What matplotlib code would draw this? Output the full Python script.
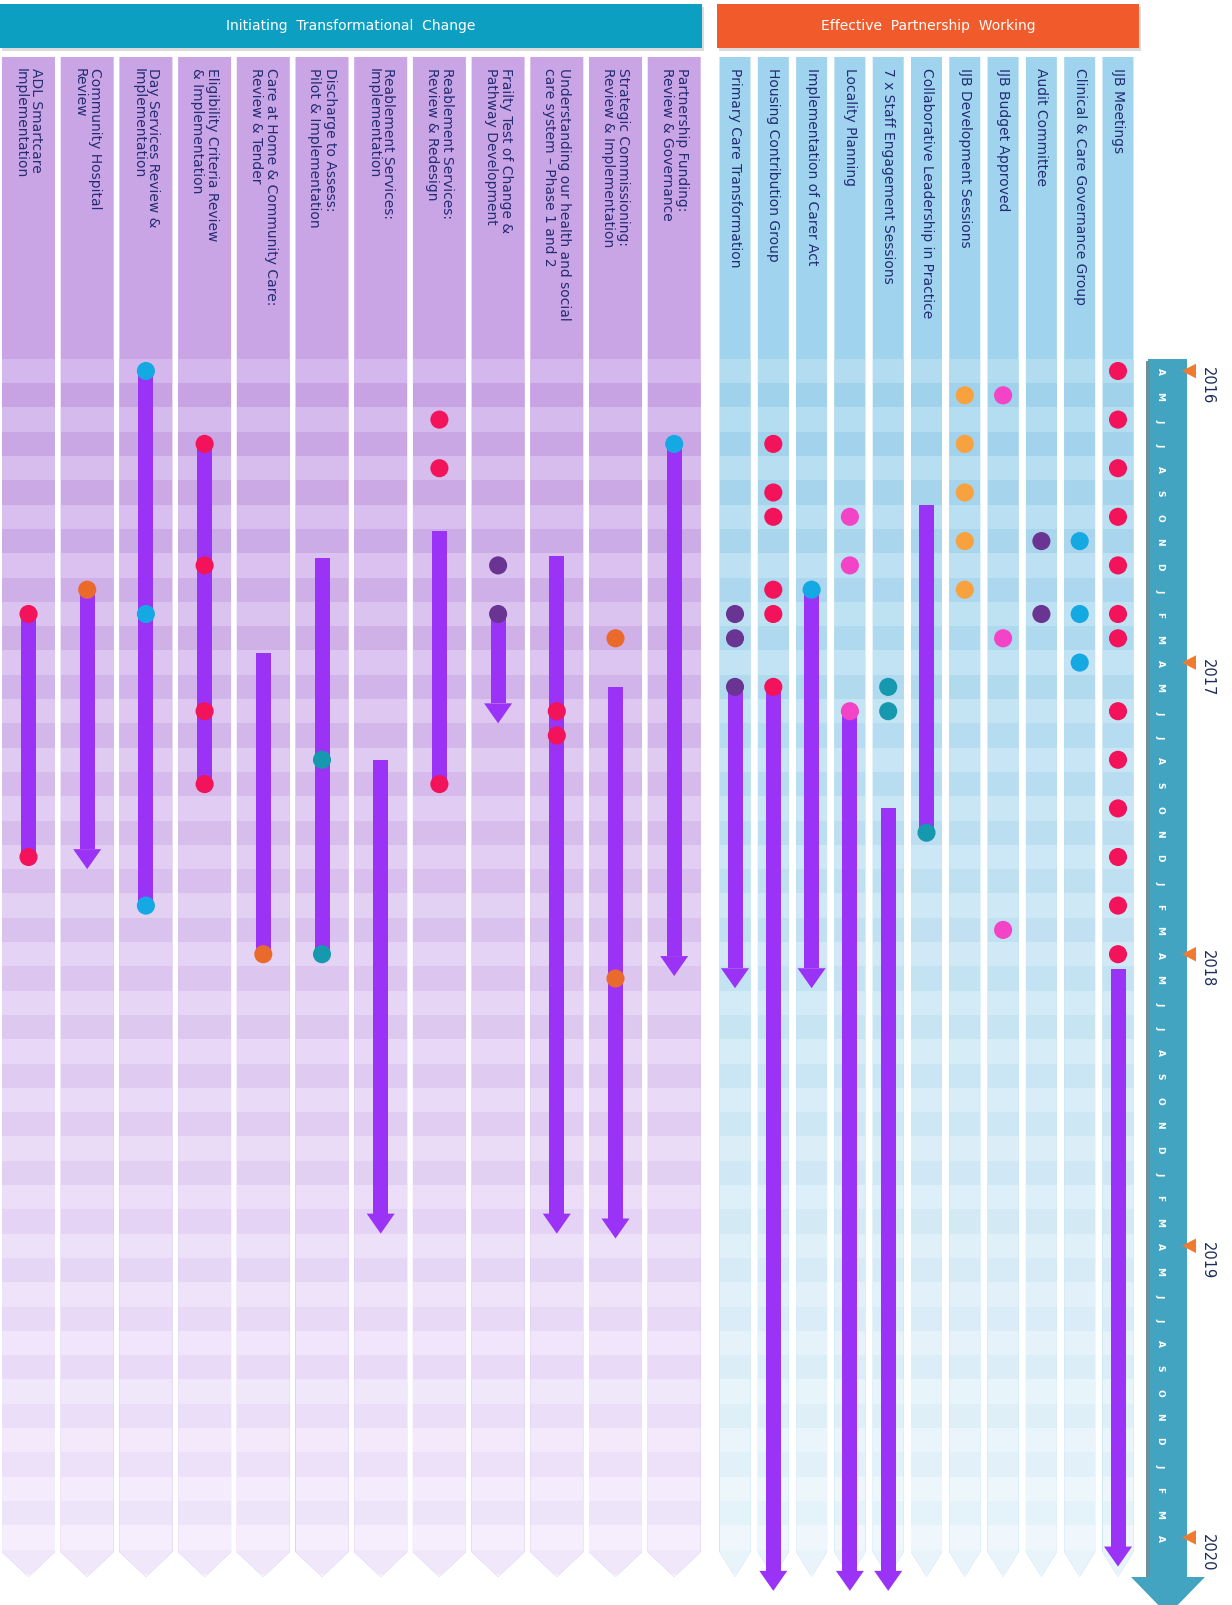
import matplotlib.pyplot as plt
from matplotlib.patches import Polygon, Rectangle

# month index: 0 = April 2016, 12 = April 2017, ...
purple_tasks = [
    "ADL Smartcare\nImplementation",
    "Community Hospital\nReview",
    "Day Services Review &\nImplementation",
    "Eligibility Criteria Review\n& Implementation",
    "Care at Home & Community Care:\nReview & Tender",
    "Discharge to Assess:\nPilot & Implementation",
    "Reablement Services:\nImplementation",
    "Reablement Services:\nReview & Redesign",
    "Frailty Test of Change &\nPathway Development",
    "Understanding our health and social\ncare system \u2013 Phase 1 and 2",
    "Strategic Commissioning:\nReview & Implementation",
    "Partnership Funding:\nReview & Governance",
]
blue_tasks = [
    "Primary Care Transformation",
    "Housing Contribution Group",
    "Implementation of Carer Act",
    "Locality Planning",
    "7 x Staff Engagement Sessions",
    "Collaborative Leadership in Practice",
    "IJB Development Sessions",
    "IJB Budget Approved",
    "Audit Committee",
    "Clinical & Care Governance Group",
    "IJB Meetings",
]
group_titles = ["Initiating  Transformational  Change", "Effective  Partnership  Working"]

# activity bars (column index counts purple then blue columns)
bar_col = [0, 1, 2, 3, 4, 5, 6, 7, 8, 9, 10, 11, 12, 13, 14, 15, 16, 17, 22]
bar_start = [10, 9, 0, 3, 11.6, 7.7, 16, 6.6, 10, 7.6, 13, 3, 13, 13, 9, 14, 18, 5.5, 24.6]
bar_end = [20, 20.5, 22, 17, 24, 24, 35.5, 17, 14.5, 35.5, 35.7, 24.9, 25.4, 50.2, 25.4, 50.2, 50.2, 19, 49.2]
bar_arrow = [False, True, False, False, False, False, True, False, True, True, True, True,
             True, True, True, True, True, False, True]

# milestones
dot_col = [0, 0, 1, 2, 2, 2, 3, 3, 3, 3, 4, 5, 5, 7, 7, 7, 8, 8, 9, 9, 10, 10, 11,
           12, 12, 12, 13, 13, 13, 13, 13, 13, 14, 15, 15, 15, 16, 16, 17,
           18, 18, 18, 18, 18, 19, 19, 19, 20, 20, 21, 21, 21,
           22, 22, 22, 22, 22, 22, 22, 22, 22, 22, 22, 22, 22]
dot_month = [10, 20, 9, 0, 10, 22, 3, 8, 14, 17, 24, 16, 24, 2, 4, 17, 8, 10, 14, 15, 11, 25, 3,
             10, 11, 13, 3, 5, 6, 9, 10, 13, 9, 6, 8, 14, 13, 14, 19,
             1, 3, 5, 7, 9, 1, 11, 23, 7, 10, 7, 10, 12,
             0, 2, 4, 6, 8, 10, 11, 14, 16, 18, 20, 22, 24]
dot_kind = ["red", "red", "orange", "cyan", "cyan", "cyan", "red", "red", "red", "red", "orange",
            "teal", "teal", "red", "red", "red", "plum", "plum", "red", "red", "orange", "orange", "cyan",
            "plum", "plum", "plum", "red", "red", "red", "red", "red", "red", "cyan",
            "pink", "pink", "pink", "teal", "teal", "teal",
            "amber", "amber", "amber", "amber", "amber", "pink", "pink", "pink",
            "plum", "plum", "cyan", "cyan", "cyan"] + ["red"] * 13

month_letters = list("AMJJASONDJFM" * 4 + "A")
years = [2016, 2017, 2018, 2019, 2020]
year_month = [0, 12, 24, 36, 48]

kind_colour = {"red": "#f2135a", "pink": "#f343c6", "cyan": "#14a9e3", "teal": "#1698ae",
               "orange": "#ea6a2c", "amber": "#f8a13f", "plum": "#6a3592"}
bar_colour = "#9b33f7"

Y0, PX = 372.0, 24.3   # pixel row of April 2016 and pixels per month


def ym(py):
    return (py - Y0) / PX


fig = plt.figure(figsize=(12.32, 16.06), dpi=100)
ax = fig.add_axes([0, 0, 1, 1])
ax.set_xlim(0, 1232)
ax.set_ylim(ym(1606), ym(0))
ax.axis("off")


def mix(a, b, t):
    return tuple(a[i] + (b[i] - a[i]) * t for i in range(3))


def rgb(h):
    h = h.lstrip("#")
    return tuple(int(h[i:i + 2], 16) / 255 for i in (0, 2, 4))


def column(x0, w, head, light, dark):
    xc = x0 + w / 2
    top, body, tip = ym(58), ym(1553), ym(1578)
    poly = Polygon([(x0, top), (x0 + w, top), (x0 + w, body), (xc, tip), (x0, body)],
                   closed=True, fc=head, ec="none", zorder=1)
    ax.add_patch(poly)
    n = 51
    for k in range(n):
        t = k / (n - 1)
        c = mix(*light, t) if k % 2 == 0 else mix(*dark, t)
        r = Rectangle((x0, k - 0.5), w, 1, fc=c, ec="none", zorder=1.5)
        ax.add_patch(r)
        r.set_clip_path(poly)


purple_light = (rgb("#d4b8ed"), rgb("#f7f0fd"))
purple_dark = (rgb("#c6a2e3"), rgb("#f1e8fb"))
blue_light = (rgb("#b3dcf1"), rgb("#f1f8fc"))
blue_dark = (rgb("#9ed1eb"), rgb("#e9f4fa"))

col_x = []
for i, label in enumerate(purple_tasks):
    x0 = 2 + 58.7 * i
    column(x0, 53, "#c9a5e5", purple_light, purple_dark)
    col_x.append(x0 + 26.5)
for i, label in enumerate(blue_tasks):
    x0 = 719.5 + 38.3 * i
    column(x0, 31, "#a0d4ee", blue_light, blue_dark)
    col_x.append(x0 + 15.5)

for x, label in zip(col_x, purple_tasks + blue_tasks):
    ax.text(x, ym(68), label, rotation=270, ha="center", va="top", fontsize=10,
            color="#242c74", linespacing=1.1, multialignment="left", zorder=3)

# group headers
for (x0, x1), title, fc in zip([(0, 702), (717, 1139)], group_titles, ["#0c9fc1", "#f15a2a"]):
    ax.add_patch(Rectangle((x0 + 2, ym(8)), x1 - x0, ym(52) - ym(8), fc="#9a9a9a", ec="none",
                           alpha=0.35, zorder=2))
    ax.add_patch(Rectangle((x0, ym(5)), x1 - x0, ym(49) - ym(5), fc=fc, ec="none", zorder=2.5))
    ax.text((x0 + x1) / 2, ym(26), title, ha="center", va="center", color="white",
            fontsize=10, zorder=3)

# activity bars
head_h = 20 / PX
for c, s, e, arr in zip(bar_col, bar_start, bar_end, bar_arrow):
    x = col_x[c]
    shaft_end = e - head_h if arr else e
    ax.add_patch(Rectangle((x - 7.5, s), 15, shaft_end - s, fc=bar_colour, ec="none", zorder=4))
    if arr:
        ax.fill([x - 14, x + 14, x], [shaft_end, shaft_end, e], color=bar_colour, lw=0, zorder=4)

# milestones
ax.scatter([col_x[c] for c in dot_col], dot_month, s=170,
           c=[kind_colour[k] for k in dot_kind], linewidths=0, zorder=5)

# timeline arrow
tl = Polygon([(1148, ym(360)), (1187, ym(360)), (1187, ym(1578)), (1205, ym(1578)),
              (1168, ym(1616)), (1131, ym(1578)), (1148, ym(1578))],
             closed=True, fc="#43a4c1", ec="none", zorder=2)
ax.add_patch(tl)
ax.add_patch(Rectangle((1146, ym(362)), 4, ym(1578) - ym(362), fc="#6b8f9c", ec="none", zorder=2.2))
for m, letter in enumerate(month_letters):
    ax.text(1160, m, letter, rotation=270, ha="center", va="center", color="white",
            fontsize=6.5, fontweight="bold", zorder=3)
for m, yr in zip(year_month, years):
    ax.fill([1182, 1196, 1196], [m, m - 0.3, m + 0.3], color="#f07b2f", lw=0, zorder=3)
    ax.text(1207, m - 0.2, str(yr), rotation=270, ha="center", va="top", fontsize=10.5,
            color="#1d2b5c", zorder=3)

fig.savefig("out.png", dpi=100)
